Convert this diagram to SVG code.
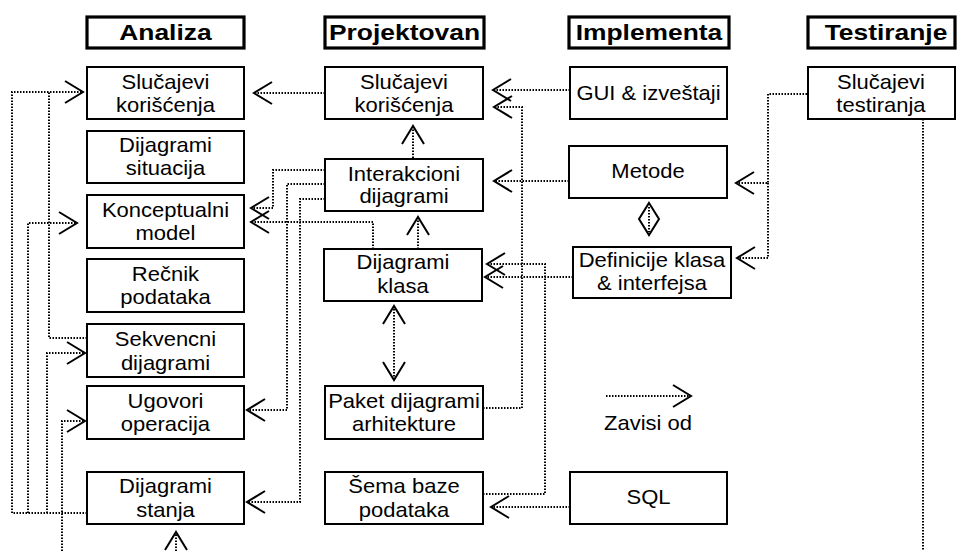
<svg xmlns="http://www.w3.org/2000/svg" width="957" height="551" viewBox="0 0 957 551">
  <style>
    .hdr { fill: #fff; stroke: #000; stroke-width: 3.2; }
    .box { fill: #fff; stroke: #000; stroke-width: 2; }
    text { font-family: "Liberation Sans", Arial, sans-serif; fill: #000; text-anchor: middle;
           transform-box: fill-box; transform-origin: center; }
    .h { font-size: 22px; font-weight: bold; transform: scaleX(1.2); }
    .t { font-size: 20px; transform: scaleX(1.1); }
    .dep { fill: none; stroke: #000; stroke-width: 2; stroke-dasharray: 1.5 1.5; }
    .dia { fill: none; stroke: #000; stroke-width: 2; }
  </style>
  <defs>
    <marker id="arr" markerUnits="userSpaceOnUse" markerWidth="26" markerHeight="26"
            viewBox="-22 -13 26 26" refX="0" refY="0" orient="auto-start-reverse">
      <path d="M-18,-11 L0,0 L-18,11" fill="none" stroke="#000" stroke-width="2" stroke-dasharray="none"/>
    </marker>
  </defs>
  <rect width="957" height="551" fill="#fff"/>

  <!-- phase headers -->
  <g id="hdr-analiza"><rect class="hdr" x="87" y="17" width="157" height="31"/><text class="h" x="165.5" y="40">Analiza</text></g>
  <g id="hdr-projektovanje"><rect class="hdr" x="325" y="17" width="159" height="31"/><text class="h" x="404.5" y="40">Projektovan</text></g>
  <g id="hdr-implementacija"><rect class="hdr" x="569" y="17" width="160" height="31"/><text class="h" x="649" y="40">Implementa</text></g>
  <g id="hdr-testiranje"><rect class="hdr" x="808" y="17" width="147" height="31"/><text class="h" x="886" y="40">Testiranje</text></g>

  <!-- connectors -->
  <g id="connectors">
    <path class="dep" d="M325,93 H254" marker-end="url(#arr)"/>
    <path class="dep" d="M570,90 H493" marker-end="url(#arr)"/>
    <path class="dep" d="M483,408 H522 V107 H494" marker-end="url(#arr)"/>
    <path class="dep" d="M569,181 H494" marker-end="url(#arr)"/>
    <path class="dep" d="M413,158 V126" marker-end="url(#arr)"/>
    <path class="dep" d="M418,249 V217" marker-end="url(#arr)"/>
    <path class="dep" d="M394,306 V380" marker-start="url(#arr)" marker-end="url(#arr)"/>
    <path class="dep" d="M573,277 H485" marker-end="url(#arr)"/>
    <path class="dep" d="M483,494 H545 V264 H487" marker-end="url(#arr)"/>
    <path class="dep" d="M570,507 H491" marker-end="url(#arr)"/>
    <path class="dep" d="M649,207 V232"/>
    <path class="dia" d="M649,203 L659,219 L649,235 L639,219 Z"/>
    <path class="dep" d="M807,94 H768 V183 H736" marker-end="url(#arr)"/>
    <path class="dep" d="M768,183 V258 H737" marker-end="url(#arr)"/>
    <path class="dep" d="M923,119 V551"/>

    <path class="dep" d="M87,513 H12 V92 H83" marker-end="url(#arr)"/>
    <path class="dep" d="M87,338 H49 V92"/>
    <path class="dep" d="M28,513 V223 H77" marker-end="url(#arr)"/>
    <path class="dep" d="M47,513 V353 H85" marker-end="url(#arr)"/>
    <path class="dep" d="M62,551 V421 H85" marker-end="url(#arr)"/>
    <path class="dep" d="M176,551 V532" marker-end="url(#arr)"/>

    <path class="dep" d="M325,170 H273 V208 H251" marker-end="url(#arr)"/>
    <path class="dep" d="M373,249 V222 H251" marker-end="url(#arr)"/>
    <path class="dep" d="M325,184 H287 V410 H247" marker-end="url(#arr)"/>
    <path class="dep" d="M325,199 H300 V502 H247" marker-end="url(#arr)"/>

    <path class="dep" d="M606,396 H691" marker-end="url(#arr)"/>
  </g>

  <!-- Analiza -->
  <g id="a-slucajevi"><rect class="box" x="87" y="67" width="157" height="52"/><text class="t" x="165.5" y="89">Slučajevi</text><text class="t" x="165.5" y="112">korišćenja</text></g>
  <g id="a-situacija"><rect class="box" x="87" y="131" width="157" height="52"/><text class="t" x="165.5" y="152">Dijagrami</text><text class="t" x="165.5" y="175">situacija</text></g>
  <g id="a-konceptualni"><rect class="box" x="87" y="195" width="157" height="53"/><text class="t" x="165.5" y="217">Konceptualni</text><text class="t" x="165.5" y="240">model</text></g>
  <g id="a-recnik"><rect class="box" x="87" y="259" width="157" height="53"/><text class="t" x="165.5" y="281">Rečnik</text><text class="t" x="165.5" y="304">podataka</text></g>
  <g id="a-sekvencni"><rect class="box" x="87" y="324" width="157" height="53"/><text class="t" x="165.5" y="346">Sekvencni</text><text class="t" x="165.5" y="370">dijagrami</text></g>
  <g id="a-ugovori"><rect class="box" x="87" y="386" width="157" height="53"/><text class="t" x="165.5" y="408">Ugovori</text><text class="t" x="165.5" y="431">operacija</text></g>
  <g id="a-stanja"><rect class="box" x="87" y="472" width="157" height="52"/><text class="t" x="165.5" y="493">Dijagrami</text><text class="t" x="165.5" y="517">stanja</text></g>

  <!-- Projektovanje -->
  <g id="p-slucajevi"><rect class="box" x="325" y="67" width="158" height="52"/><text class="t" x="404" y="89">Slučajevi</text><text class="t" x="404" y="112">korišćenja</text></g>
  <g id="p-interakcioni"><rect class="box" x="325" y="159" width="158" height="52"/><text class="t" x="404" y="181">Interakcioni</text><text class="t" x="404" y="203">dijagrami</text></g>
  <g id="p-klase"><rect class="box" x="324" y="249" width="158" height="52"/><text class="t" x="403" y="269">Dijagrami</text><text class="t" x="403" y="293">klasa</text></g>
  <g id="p-paket"><rect class="box" x="325" y="386" width="158" height="53"/><text class="t" x="404" y="408">Paket dijagrami</text><text class="t" x="404" y="431">arhitekture</text></g>
  <g id="p-sema"><rect class="box" x="325" y="472" width="158" height="52"/><text class="t" x="404" y="493">Šema baze</text><text class="t" x="404" y="517">podataka</text></g>

  <!-- Implementacija -->
  <g id="i-gui"><rect class="box" x="570" y="67" width="157" height="52"/><text class="t" x="648.5" y="100">GUI &amp; izveštaji</text></g>
  <g id="i-metode"><rect class="box" x="569" y="146" width="158" height="52"/><text class="t" x="648" y="178">Metode</text></g>
  <g id="i-definicije"><rect class="box" x="573" y="247" width="158" height="51"/><text class="t" x="652" y="267">Definicije klasa</text><text class="t" x="652" y="290">&amp; interfejsa</text></g>
  <g id="i-sql"><rect class="box" x="570" y="472" width="157" height="52"/><text class="t" x="648.5" y="504">SQL</text></g>

  <!-- Testiranje -->
  <g id="t-slucajevi"><rect class="box" x="808" y="67" width="147" height="52"/><text class="t" x="881" y="89">Slučajevi</text><text class="t" x="881" y="112">testiranja</text></g>

  <!-- legend -->
  <g id="legend"><text class="t" x="648" y="430">Zavisi od</text></g>
</svg>
